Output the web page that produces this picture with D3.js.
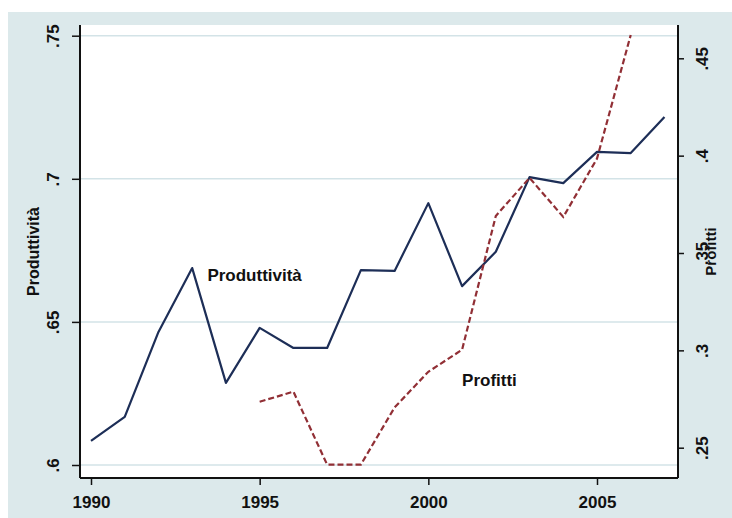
<!DOCTYPE html>
<html>
<head>
<meta charset="utf-8">
<script src="https://cdn.jsdelivr.net/npm/d3@7"></script>
<style>
  body { margin: 0; background: #fff; }
  svg { display: block; font-family: "Liberation Sans", Arial, sans-serif; }
</style>
</head>
<body>
<div id="chart"></div>
<script>
// data
var years = [1990, 1991, 1992, 1993, 1994, 1995, 1996, 1997, 1998, 1999,
             2000, 2001, 2002, 2003, 2004, 2005, 2006, 2007];
var produttivita = [0.6084, 0.6168, 0.6465, 0.6688, 0.6287, 0.6479, 0.6409, 0.6409, 0.6681, 0.6678,
                    0.6915, 0.6625, 0.6745, 0.7006, 0.6985, 0.7094, 0.7090, 0.7216];
var profitti = [null, null, null, null, null, 0.2736, 0.2788, 0.2413, 0.2413, 0.2707,
                0.2890, 0.3003, 0.3690, 0.3886, 0.3685, 0.3985, 0.4620, null];
var xTicks = [1990, 1995, 2000, 2005];
var leftTicks = [0.6, 0.65, 0.7, 0.75];
var rightTicks = [0.25, 0.3, 0.35, 0.4, 0.45];

var W = 732, H = 518;
var plotL = 80, plotR = 678, plotT = 25, plotB = 478;

var svg = d3.select("#chart").append("svg")
    .attr("width", W)
    .attr("height", H);

// outer graph region
svg.append("rect")
    .attr("x", 8).attr("y", 12)
    .attr("width", W - 8).attr("height", H - 12)
    .attr("fill", "#dce9eb");

// plot region
svg.append("rect")
    .attr("x", plotL).attr("y", plotT)
    .attr("width", plotR - plotL).attr("height", plotB - plotT)
    .attr("fill", "#fff");

// scales
var xScale = d3.scaleLinear().domain([1990, 2005]).range([91, 597]);
var yLeft = d3.scaleLinear().domain([0.6, 0.75]).range([465, 35.7]);
var yRight = d3.scaleLinear().domain([0.25, 0.45]).range([447.7, 58.3]);

var fmt = function(d) { return String(d).replace(/^0/, ''); };

// gridlines
svg.append("g").selectAll("line")
    .data(leftTicks)
    .enter().append("line")
    .attr("x1", plotL).attr("x2", plotR)
    .attr("y1", function(d) { return yLeft(d); })
    .attr("y2", function(d) { return yLeft(d); })
    .attr("stroke", "#d3e3e7")
    .attr("stroke-width", 1.5);

// clip so the profit line stops at the top of the plot
svg.append("clipPath").attr("id", "clip")
    .append("rect")
    .attr("x", plotL).attr("y", plotT)
    .attr("width", plotR - plotL).attr("height", plotB - plotT);

var rows = years.map(function(y, i) {
    return {year: y, prod: produttivita[i], prof: profitti[i]};
});

var lineProd = d3.line()
    .x(function(d) { return xScale(d.year); })
    .y(function(d) { return yLeft(d.prod); });

var lineProf = d3.line()
    .defined(function(d) { return d.prof != null; })
    .x(function(d) { return xScale(d.year); })
    .y(function(d) { return yRight(d.prof); });

svg.append("path")
    .datum(rows)
    .attr("clip-path", "url(#clip)")
    .attr("fill", "none")
    .attr("stroke", "#1d2e57")
    .attr("stroke-width", 2.2)
    .attr("stroke-linejoin", "round")
    .attr("d", lineProd);

svg.append("path")
    .datum(rows)
    .attr("clip-path", "url(#clip)")
    .attr("fill", "none")
    .attr("stroke", "#912f35")
    .attr("stroke-width", 2.2)
    .attr("stroke-dasharray", "6,3")
    .attr("d", lineProf);

// axes
var xAxis = d3.axisBottom(xScale).tickValues(xTicks).tickSize(7).tickFormat(d3.format("d"));
var gx = svg.append("g")
    .attr("transform", "translate(0," + plotB + ")")
    .call(xAxis);
gx.select(".domain").attr("d", "M" + plotL + ",0H" + plotR);
gx.selectAll("text").attr("y", 30).attr("dy", 0);

var leftAxis = d3.axisLeft(yLeft).tickValues(leftTicks).tickSize(8).tickFormat(fmt);
var gl = svg.append("g")
    .attr("transform", "translate(" + plotL + ",0)")
    .call(leftAxis);
gl.select(".domain").attr("d", "M0," + plotT + "V" + plotB);
gl.selectAll(".tick text")
    .attr("x", 0).attr("dy", 0)
    .attr("text-anchor", "middle")
    .attr("transform", "translate(-21,0) rotate(-90)");

var rightAxis = d3.axisRight(yRight).tickValues(rightTicks).tickSize(6).tickFormat(fmt);
var gr = svg.append("g")
    .attr("transform", "translate(" + plotR + ",0)")
    .call(rightAxis);
gr.select(".domain").attr("d", "M0," + plotT + "V" + plotB);
gr.selectAll(".tick text")
    .attr("x", 0).attr("dy", 0)
    .attr("text-anchor", "middle")
    .attr("transform", "translate(30,0) rotate(-90)");

svg.selectAll(".domain").attr("stroke", "#111").attr("stroke-width", 2);
svg.selectAll(".tick line").attr("stroke", "#111").attr("stroke-width", 1.5);
svg.selectAll(".tick text")
    .attr("fill", "#111")
    .style("font-size", "17px")
    .style("font-weight", "bold")
    .style("font-family", "'Liberation Sans', Arial, sans-serif");

// axis titles
svg.append("text")
    .attr("transform", "translate(39," + ((plotT + plotB) / 2) + ") rotate(-90)")
    .attr("text-anchor", "middle")
    .attr("fill", "#111")
    .style("font-size", "16px")
    .style("font-weight", "bold")
    .text("Produttività");

svg.append("text")
    .attr("transform", "translate(716," + ((plotT + plotB) / 2) + ") rotate(-90)")
    .attr("text-anchor", "middle")
    .attr("fill", "#111")
    .style("font-size", "15px")
    .style("font-weight", "bold")
    .text("Profitti");

// line labels
svg.append("text")
    .attr("x", xScale(1993.45)).attr("y", yLeft(0.6643))
    .attr("fill", "#111")
    .style("font-size", "17px")
    .style("font-weight", "bold")
    .text("Produttività");

svg.append("text")
    .attr("x", xScale(2001)).attr("y", yRight(0.2815))
    .attr("fill", "#111")
    .style("font-size", "17px")
    .style("font-weight", "bold")
    .text("Profitti");
</script>
</body>
</html>
